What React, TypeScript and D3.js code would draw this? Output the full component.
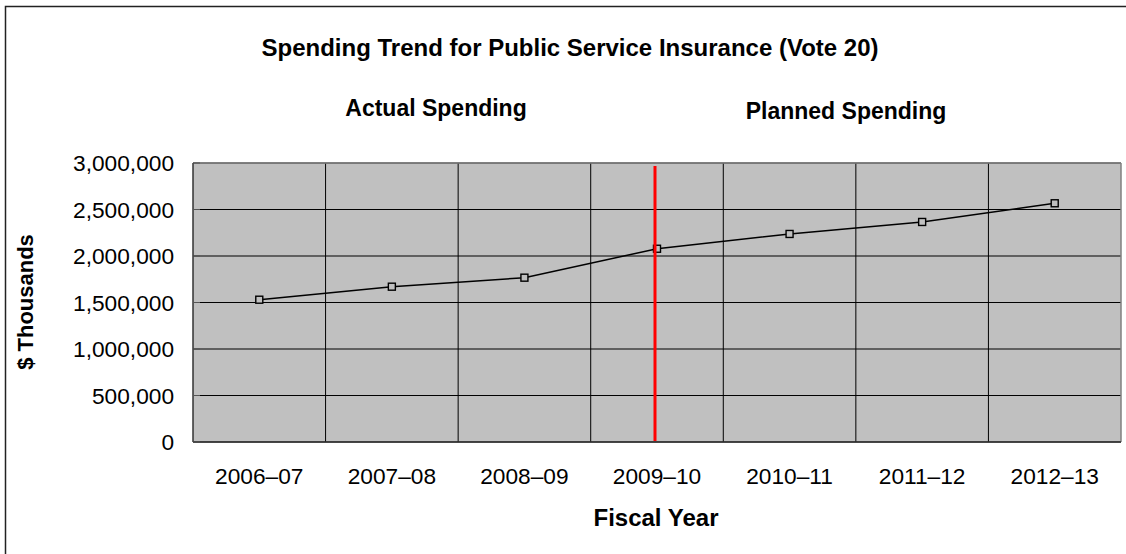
import React from "react";
import * as d3 from "d3";

const categories = ["2006–07", "2007–08", "2008–09", "2009–10", "2010–11", "2011–12", "2012–13"];
const spending = [1530000, 1670000, 1767000, 2078000, 2237000, 2366000, 2567000];
const yTicks = [0, 500000, 1000000, 1500000, 2000000, 2500000, 3000000];
const title = "Spending Trend for Public Service Insurance (Vote 20)";
const sectionLabels = ["Actual Spending", "Planned Spending"];
const dividerCategory = "2009–10";

export default function App() {
  const W = 1126, H = 554;
  const left = 193, right = 1121, top = 163, bottom = 442;
  const font = "Liberation Sans, Arial, sans-serif";

  const x = d3.scaleBand<string>().domain(categories).range([left, right]).padding(0);
  const y = d3.scaleLinear().domain([0, 3000000]).range([bottom, top]);
  const cx = (c: string) => (x(c) as number) + x.bandwidth() / 2;

  const line = d3.line<number>()
    .x((_, i) => cx(categories[i]))
    .y((d) => y(d));

  const fmt = d3.format(",");
  const divX = cx(dividerCategory) - 2;

  return (
    <svg width={W} height={H} style={{ position: "absolute", left: 0, top: 0 }}>
      <rect x={0} y={0} width={W} height={H} fill="#fff" />
      <rect x={5.5} y={6.5} width={W + 10} height={H} fill="none" stroke="#222" strokeWidth={1.5} />
      <text x={570} y={56} textAnchor="middle" fontFamily={font} fontWeight="bold" fontSize={24}>{title}</text>
      <text x={436} y={116} textAnchor="middle" fontFamily={font} fontWeight="bold" fontSize={23}>{sectionLabels[0]}</text>
      <text x={846} y={119} textAnchor="middle" fontFamily={font} fontWeight="bold" fontSize={23}>{sectionLabels[1]}</text>

      <rect x={left} y={top} width={right - left} height={bottom - top} fill="#C0C0C0" />
      {yTicks.map((t) => (
        <line key={"g" + t} x1={left} x2={right} y1={y(t)} y2={y(t)} stroke="#000" strokeWidth={1} />
      ))}
      {categories.slice(1).map((c) => (
        <line key={"v" + c} x1={x(c)} x2={x(c)} y1={top} y2={bottom} stroke="#000" strokeWidth={1} />
      ))}
      <line x1={left} x2={right} y1={top} y2={top} stroke="#808080" strokeWidth={1.5} />
      <line x1={right} x2={right} y1={top} y2={bottom} stroke="#808080" strokeWidth={1.5} />
      <line x1={left} x2={left} y1={top} y2={bottom} stroke="#333" strokeWidth={1.5} />
      <line x1={left} x2={right} y1={bottom} y2={bottom} stroke="#333" strokeWidth={1.5} />
      {yTicks.map((t) => (
        <g key={"t" + t}>
          <line x1={left} x2={left + 7} y1={y(t)} y2={y(t)} stroke="#555" strokeWidth={1} />
          <text x={174} y={y(t) + 8} textAnchor="end" fontFamily={font} fontSize={22.7}>{fmt(t)}</text>
        </g>
      ))}

      <path d={line(spending) || ""} fill="none" stroke="#000" strokeWidth={1.5} />
      {spending.map((v, i) => (
        <rect key={"m" + i} x={cx(categories[i]) - 3.5} y={y(v) - 3.5} width={7} height={7} fill="#C0C0C0" stroke="#000" strokeWidth={1.4} />
      ))}
      <line x1={divX} x2={divX} y1={166} y2={bottom - 1} stroke="#FF0000" strokeWidth={3} />

      {categories.map((c) => (
        <text key={"x" + c} x={cx(c)} y={484} textAnchor="middle" fontFamily={font} fontSize={22.7}>{c}</text>
      ))}
      <text x={656} y={526} textAnchor="middle" fontFamily={font} fontWeight="bold" fontSize={24}>Fiscal Year</text>
      <text transform={`translate(33,${302}) rotate(-90)`} textAnchor="middle" fontFamily={font} fontWeight="bold" fontSize={22}>$ Thousands</text>
    </svg>
  );
}
